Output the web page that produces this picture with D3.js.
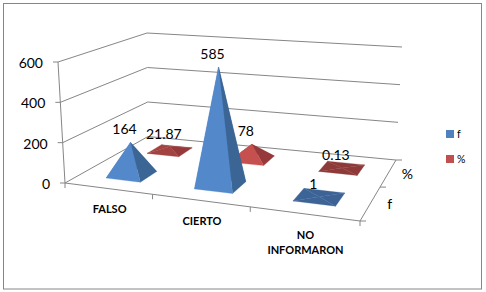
<!DOCTYPE html>
<html>
<head>
<meta charset="utf-8">
<script src="https://cdnjs.cloudflare.com/ajax/libs/d3/7.8.5/d3.min.js"></script>
<style>
  html, body { margin: 0; padding: 0; background: #fff; }
  svg { display: block; }
  text { font-family: Lato, "Open Sans", sans-serif; fill: #000; }
</style>
</head>
<body>
<svg id="chart" width="486" height="292"></svg>
<script>
const categories = [["FALSO"], ["CIERTO"], ["NO", "INFORMARON"]];
const seriesNames = ["f", "%"];
const fValues = [164, 585, 1];
const pctValues = [21.87, 78, 0.13];
const valueTicks = [0, 200, 400, 600];

const colors = {
  f: { front: "#5388cb", side: "#3a6594", flat: "#3d6396" },
  "%": { front: "#c5504e", side: "#96393a", flat: "#8e3a39" },
};

const svg = d3.select("#chart");
const gray = "#868686";

// floor corners on screen: front left, front right, back right, back left
const floor = [[65, 183], [360, 221], [396, 160], [148, 136.5]];
// screen vector of the full value range at the same four corners
const up = [[-7, 121], [0, 130], [6, 113], [-1, 103.5]];

// the bars sit slightly right of the category centres
const xScale = d3.scaleBand().domain(d3.range(categories.length)).range([0.007, 1.007]).paddingInner(0.6).paddingOuter(0.3);
const zScale = d3.scaleBand().domain(seriesNames).range([0, 1]).paddingInner(0.6).paddingOuter(0.3);
const yScale = d3.scaleLinear().domain([0, 600]).range([0, 1]);

// unit square to floor quad
const homography = (() => {
  const [[x0, y0], [x1, y1], [x2, y2], [x3, y3]] = floor;
  const dx1 = x1 - x2, dx2 = x3 - x2, sx = x0 - x1 + x2 - x3;
  const dy1 = y1 - y2, dy2 = y3 - y2, sy = y0 - y1 + y2 - y3;
  const den = dx1 * dy2 - dx2 * dy1;
  const g = (sx * dy2 - dx2 * sy) / den;
  const h = (dx1 * sy - sx * dy1) / den;
  return {
    a: x1 - x0 + g * x1, b: x3 - x0 + h * x3, c: x0,
    d: y1 - y0 + g * y1, e: y3 - y0 + h * y3, f: y0, g, h,
  };
})();

function project(u, v, value = 0) {
  const m = homography;
  const w = m.g * u + m.h * v + 1;
  const px = (m.a * u + m.b * v + m.c) / w;
  const py = (m.d * u + m.e * v + m.f) / w;
  const mix = (i) =>
    (1 - u) * (1 - v) * up[0][i] + u * (1 - v) * up[1][i] + u * v * up[2][i] + (1 - u) * v * up[3][i];
  const t = yScale(value);
  return [px + mix(0) * t, py - mix(1) * t];
}

const line = d3.line();

function stroke(points, width = 1) {
  svg.append("path")
    .attr("d", line(points))
    .attr("fill", "none")
    .attr("stroke", gray)
    .attr("stroke-width", width);
}

svg.append("rect")
  .attr("x", 3.5).attr("y", 3.5)
  .attr("width", 478).attr("height", 285.5)
  .attr("fill", "#fff")
  .attr("stroke", gray)
  .attr("stroke-width", 1);

// walls
valueTicks.forEach((t) => {
  stroke([project(0, 0, t), project(0, 1, t), project(1, 1, t)]);
  const p = project(0, 0, t);
  stroke([p, [p[0] - 5, p[1]]]);
  svg.append("text")
    .attr("x", p[0] - 15)
    .attr("y", p[1] + 6)
    .attr("text-anchor", "end")
    .attr("font-size", 14)
    .text(t);
});
stroke([project(0, 0, 0), project(0, 0, 600)]);

// floor front and right edges with their ticks
stroke([project(0, 0), project(1, 0), project(1, 1)]);
d3.range(categories.length + 1).forEach((i) => {
  const p = project(i / categories.length, 0);
  stroke([p, [p[0], p[1] + 5]]);
});
[0, 0.5, 1].forEach((v) => {
  const p = project(1, v);
  stroke([p, [p[0] + 6, p[1]]]);
});

// back series first so the front one covers it
const rows = [
  { name: "%", values: pctValues },
  { name: "f", values: fValues },
];

const labels = [];

rows.forEach((row) => {
  const c = colors[row.name];
  row.values.forEach((value, i) => {
    const u0 = xScale(i), u1 = u0 + xScale.bandwidth();
    const v0 = zScale(row.name), v1 = v0 + zScale.bandwidth();
    const um = (u0 + u1) / 2, vm = (v0 + v1) / 2;
    const apex = project(um, vm, value);
    const base = [project(u0, v0), project(u1, v0), project(u1, v1), project(u0, v1)];

    // low pyramids look flat and dark, tall ones get the lit front
    const lit = d3.interpolateRgb(c.flat, c.front)(Math.min(1, value / 60));
    const faces = [
      { pts: [base[3], base[2], apex], fill: c.flat },
      { pts: [base[0], base[3], apex], fill: lit },
      { pts: [base[1], base[2], apex], fill: value < 5 ? c.flat : c.side },
      { pts: [base[0], base[1], apex], fill: lit },
    ];
    faces.forEach((face) => {
      svg.append("path")
        .attr("d", line(face.pts) + "Z")
        .attr("fill", face.fill)
        .attr("stroke", face.fill)
        .attr("stroke-width", 0.3);
    });
    labels.push({ x: apex[0] - 6, y: apex[1] - 8, text: value });
  });
});

svg.selectAll(".value-label")
  .data(labels)
  .enter()
  .append("text")
  .attr("class", "value-label")
  .attr("x", (d) => d.x)
  .attr("y", (d) => d.y)
  .attr("text-anchor", "middle")
  .attr("font-size", 14)
  .text((d) => d.text);

// category labels under the front edge
categories.forEach((lines, i) => {
  const p = project((i + 0.5) / categories.length, 0);
  lines.forEach((t, j) => {
    svg.append("text")
      .attr("x", p[0] + 2)
      .attr("y", p[1] + 25 + j * 15)
      .attr("text-anchor", "middle")
      .attr("font-size", 11)
      .attr("font-weight", 700)
      .text(t);
  });
});

// depth labels
seriesNames.forEach((name, i) => {
  const p = project(1, (i + 0.5) / seriesNames.length);
  svg.append("text")
    .attr("x", p[0] + 19)
    .attr("y", p[1] + 6)
    .attr("text-anchor", "middle")
    .attr("font-size", 14)
    .text(name);
});

// legend
const legendY = d3.scalePoint().domain(seriesNames).range([130, 155]);
seriesNames.forEach((name) => {
  svg.append("rect")
    .attr("x", 446)
    .attr("y", legendY(name))
    .attr("width", 8)
    .attr("height", 8)
    .attr("fill", name === "f" ? "#4f81bd" : "#c0504d");
  svg.append("text")
    .attr("x", 457)
    .attr("y", legendY(name) + 8)
    .attr("font-size", 10.5)
    .text(name);
});
</script>
</body>
</html>
